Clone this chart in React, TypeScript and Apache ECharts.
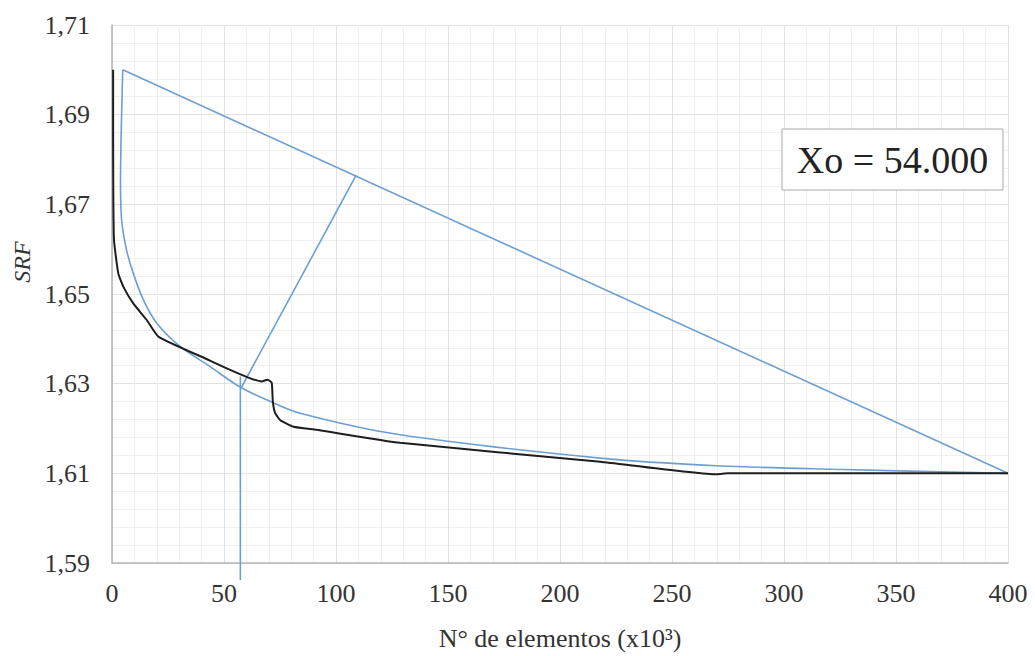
import React, { useEffect, useRef } from "react";
import * as echarts from "echarts";

const xTicks = [0, 50, 100, 150, 200, 250, 300, 350, 400];
const yTickMin = 1.59;
const yTickMax = 1.71;
const yTickStep = 0.02;

// Black curve: SRF vs number of elements (x10^3)
const blackCurve: [number, number][] = [
  [0.5, 1.7], [0.5, 1.685], [0.6, 1.671], [0.9, 1.662], [2.8, 1.6546],
  [5.1, 1.6516], [9.5, 1.6479], [15.5, 1.6442], [20.7, 1.6405], [40, 1.636],
  [66.8, 1.6305], [69.5, 1.6309], [71.3, 1.6302], [71.8, 1.626], [72.8, 1.6235],
  [75, 1.6219], [81, 1.6204], [91.4, 1.6197], [128.6, 1.6168], [218, 1.6126],
  [270, 1.6098], [275, 1.61], [400, 1.61],
];

// Blue fitted curve
const blueCurve: [number, number][] = [
  [4.8, 1.7], [4.1, 1.686], [3.8, 1.675], [4.3, 1.6665], [6.5, 1.6598],
  [9.5, 1.6546], [14, 1.6487], [20, 1.6435], [30.4, 1.6383], [43.8, 1.6338],
  [57, 1.6293], [69, 1.6264], [84, 1.6234], [128.6, 1.6186], [218, 1.6134],
  [270, 1.6117], [322, 1.6109], [400, 1.61],
];

// Chord between curve endpoints
const chordLine: [number, number][] = [[4.8, 1.7], [400, 1.61]];
// Perpendicular from curve to chord
const perpLine: [number, number][] = [[57.6, 1.629], [109, 1.6765]];
// Vertical marker at Xo
const xoLine: [number, number][] = [[57.3, 1.6316], [57.3, 1.5862]];

const annotation = "Xo = 54.000";
const xName = "N° de elementos (x10³)";
const yName = "SRF";

const FONT = "Liberation Serif";
const BLUE = "#6b9fd3";

export default function App() {
  const ref = useRef<HTMLDivElement>(null);
  useEffect(() => {
    document.body.style.margin = "0";
    const chart = echarts.init(ref.current!, null, { renderer: "svg" });
    const blueSeries = (data: [number, number][], smooth: number | boolean = false, clip = true) => ({
      type: "line",
      data,
      smooth,
      clip,
      symbol: "none",
      lineStyle: { color: BLUE, width: 1.6 },
      z: 3,
    });
    chart.setOption({
      animation: false,
      backgroundColor: "#ffffff",
      textStyle: { fontFamily: FONT },
      grid: { left: 112, right: 27, top: 25, bottom: 93, containLabel: false },
      xAxis: {
        type: "value",
        min: xTicks[0],
        max: xTicks[xTicks.length - 1],
        interval: 50,
        name: xName,
        nameLocation: "middle",
        nameGap: 62,
        nameTextStyle: { fontFamily: FONT, fontSize: 26, color: "#333" },
        axisLine: { show: true, lineStyle: { color: "#b5b5b5", width: 1.5 } },
        axisTick: { show: false },
        axisLabel: { fontFamily: FONT, fontSize: 26, color: "#333", margin: 17 },
        splitLine: { show: true, lineStyle: { color: "#e2e2e2", width: 1 } },
        minorTick: { show: false, splitNumber: 5 },
        minorSplitLine: { show: true, lineStyle: { color: "#f0f0f0", width: 1 } },
      },
      yAxis: {
        type: "value",
        min: yTickMin,
        max: yTickMax,
        interval: yTickStep,
        axisLine: { show: true, lineStyle: { color: "#b5b5b5", width: 1.5 } },
        axisTick: { show: false },
        axisLabel: {
          fontFamily: FONT,
          fontSize: 26,
          color: "#333",
          margin: 22,
          formatter: (v: number) => v.toFixed(2).replace(".", ","),
        },
        splitLine: { show: true, lineStyle: { color: "#e2e2e2", width: 1 } },
        minorTick: { show: false, splitNumber: 5 },
        minorSplitLine: { show: true, lineStyle: { color: "#f0f0f0", width: 1 } },
      },
      series: [
        blueSeries(chordLine),
        blueSeries(blueCurve, 0.3),
        blueSeries(perpLine),
        blueSeries(xoLine, false, false),
        {
          type: "line",
          data: blackCurve,
          symbol: "none",
          smooth: 0.15,
          lineStyle: { color: "#1e1e1e", width: 2 },
          z: 4,
        },
      ],
      graphic: [
        {
          type: "text",
          x: 22,
          y: 262,
          rotation: Math.PI / 2,
          style: {
            text: yName,
            fontFamily: FONT,
            fontSize: 24,
            fontStyle: "italic",
            fill: "#333",
            align: "center",
            verticalAlign: "middle",
          },
        },
        {
          type: "rect",
          shape: { x: 782, y: 129, width: 221, height: 61 },
          style: { fill: "#ffffff", stroke: "#a8a8a8", lineWidth: 1 },
          z: 10,
        },
        {
          type: "text",
          x: 892.5,
          y: 160,
          z: 11,
          style: {
            text: annotation,
            fontFamily: FONT,
            fontSize: 38,
            fill: "#222",
            align: "center",
            verticalAlign: "middle",
          },
        },
      ],
    });
    return () => chart.dispose();
  }, []);
  return <div ref={ref} style={{ width: 1035, height: 656 }} />;
}
